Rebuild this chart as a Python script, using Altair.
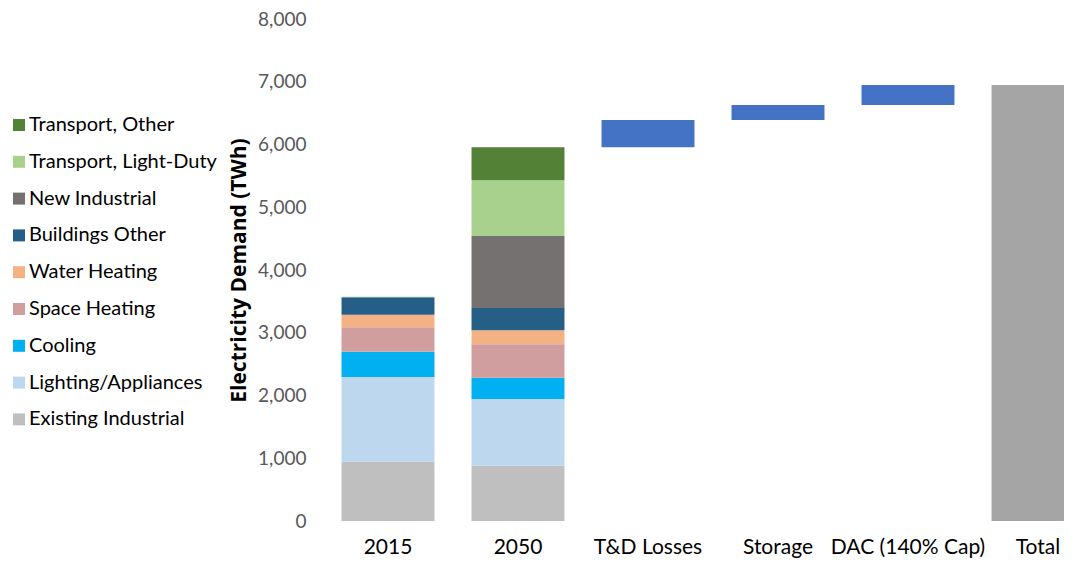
import altair as alt
import pandas as pd

categories = ["2015", "2050", "T&D Losses", "Storage", "DAC (140% Cap)", "Total"]
series = ["Existing Industrial", "Lighting/Appliances", "Cooling", "Space Heating",
          "Water Heating", "Buildings Other", "New Industrial",
          "Transport, Light-Duty", "Transport, Other"]
colors = ["#BFBFBF", "#BDD7EE", "#00B0F0", "#D09E9E", "#F4B183", "#255E87",
          "#767171", "#A9D18E", "#538135"]
v2015 = [945, 1350, 403, 389, 201, 277, 0, 10, 0]
v2050 = [881, 1063, 340, 531, 223, 356, 1147, 888, 526]
step_labels = ["T&D Losses", "Storage", "DAC (140% Cap)"]
step_values = [435, 240, 318]
step_color = "#4472C4"
total_color = "#A5A5A5"

rows = []
for cat, vals in (("2015", v2015), ("2050", v2050)):
    lo = 0
    for i, (s, v) in enumerate(zip(series, vals)):
        rows.append({"cat": cat, "series": s, "lo": lo, "hi": lo + v})
        lo += v
run = sum(v2050)
for lab, v in zip(step_labels, step_values):
    rows.append({"cat": lab, "series": "Change", "lo": run, "hi": run + v})
    run += v
rows.append({"cat": "Total", "series": "Total", "lo": 0, "hi": run})
df = pd.DataFrame(rows)

FONT = "Lato"

chart = alt.Chart(df).mark_bar().encode(
    x=alt.X("cat:N", sort=categories, title=None,
            scale=alt.Scale(range=[0, 780], paddingInner=0.285, paddingOuter=0.1425),
            axis=alt.Axis(labelAngle=0, domain=False, ticks=False, labelFontSize=21,
                          labelColor="#000000", labelPadding=15, labelFont=FONT)),
    y=alt.Y("lo:Q", title="Electricity Demand (TWh)",
            scale=alt.Scale(domain=[0, 8000], nice=False),
            axis=alt.Axis(values=list(range(0, 8001, 1000)), format=",.0f", domain=False,
                          ticks=False, grid=False, labelFontSize=19, labelColor="#595959",
                          labelPadding=17, labelFont=FONT, titleFont="Open Sans",
                          titleFontSize=21, titleFontWeight="bold", titleColor="#000000",
                          titlePadding=8)),
    y2="hi:Q",
    color=alt.Color("series:N",
                    scale=alt.Scale(domain=series + ["Change", "Total"],
                                    range=colors + [step_color, total_color]),
                    legend=alt.Legend(values=list(reversed(series)), title=None,
                                      orient="none", legendX=-314, legendY=96,
                                      symbolType="square", symbolSize=144,
                                      symbolStrokeWidth=0, labelFontSize=20,
                                      labelFont=FONT, labelColor="#000000",
                                      labelOffset=0, rowPadding=16.8, padding=0,
                                      labelLimit=400)),
).properties(
    width=741, height=502,
    autosize=alt.AutoSizeParams(type="none"),
    padding={"left": 315, "top": 11, "right": 0, "bottom": 41},
).configure_view(stroke=None)

chart.save("out.html", embed_options={"renderer": "svg", "actions": False})
